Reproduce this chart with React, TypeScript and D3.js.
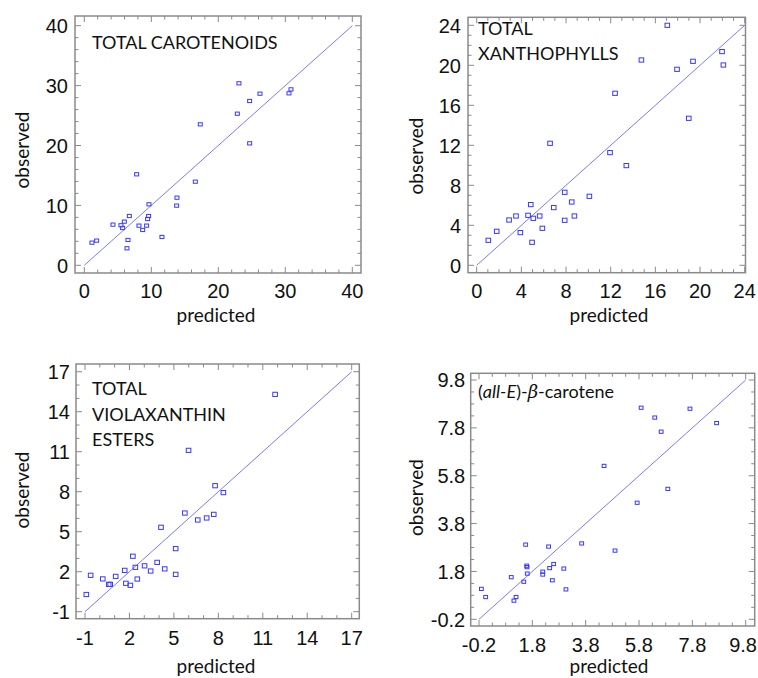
import React from "react";
import * as d3 from "d3";

// ---------- DATA ----------
const carotenoidsPredicted = [1.14, 1.84, 4.28, 5.47, 5.72, 5.97, 6.52, 6.37, 6.72, 7.81, 8.16, 8.71, 9.3, 9.45, 9.6, 9.65, 11.59, 13.78, 13.83, 16.57, 17.31, 22.84, 23.08, 24.68, 24.68, 26.22, 30.55, 30.85];
const carotenoidsObserved = [3.78, 4.12, 6.79, 6.68, 6.23, 7.29, 4.23, 2.84, 8.23, 15.19, 6.62, 5.9, 6.62, 7.73, 8.23, 10.18, 4.73, 9.96, 11.29, 13.96, 23.53, 25.31, 30.38, 27.43, 20.36, 28.65, 28.71, 29.37];

const xanthophyllsPredicted = [1.04, 1.79, 2.9, 3.52, 3.91, 4.6, 4.84, 4.96, 5.07, 5.64, 5.88, 6.57, 6.9, 7.88, 7.88, 8.51, 8.75, 10.09, 11.94, 12.39, 13.4, 14.75, 17.07, 17.94, 18.99, 19.37, 21.97, 22.09];
const xanthophyllsObserved = [2.5, 3.4, 4.53, 4.93, 3.27, 5.0, 6.07, 2.3, 4.7, 4.93, 3.7, 12.2, 5.77, 7.3, 4.5, 6.33, 4.93, 6.9, 11.27, 17.2, 9.97, 20.53, 24.0, 19.6, 14.7, 20.4, 21.37, 20.03];

const violaxanthinPredicted = [-0.91, -0.62, 0.2, 0.6, 0.7, 1.07, 1.68, 1.76, 2.06, 2.23, 2.4, 2.53, 3.02, 3.43, 3.87, 4.13, 4.38, 5.12, 5.12, 5.74, 5.99, 6.61, 7.21, 7.69, 7.78, 8.34, 11.83];
const violaxanthinObserved = [0.29, 1.73, 1.46, 1.05, 1.05, 1.65, 2.1, 1.13, 0.98, 3.16, 2.33, 1.45, 2.44, 2.05, 2.7, 5.33, 2.21, 3.73, 1.8, 6.4, 11.1, 5.88, 6.03, 6.3, 8.45, 7.93, 15.3];

const betaCarotenePredicted = [-0.11, 0.05, 1.01, 1.11, 1.19, 1.48, 1.55, 1.59, 1.6, 1.61, 2.19, 2.19, 2.41, 2.45, 2.55, 2.6, 2.98, 3.06, 3.65, 4.49, 4.9, 5.73, 5.88, 6.39, 6.63, 6.88, 7.71, 8.71];
const betaCaroteneObserved = [1.07, 0.73, 1.56, 0.58, 0.73, 1.37, 2.92, 2.04, 1.98, 1.71, 1.79, 1.67, 2.84, 1.94, 1.43, 2.11, 1.92, 1.05, 2.97, 6.21, 2.67, 4.67, 8.64, 8.23, 7.64, 5.25, 8.6, 8.0];

const ticksCarotenoids = [0, 10, 20, 30, 40];
const ticksXanthophylls = [0, 4, 8, 12, 16, 20, 24];
const ticksViolaxanthin = [-1, 2, 5, 8, 11, 14, 17];
const ticksBetaCarotene = [-0.2, 1.8, 3.8, 5.8, 7.8, 9.8];

const xLabel = "predicted";
const yLabel = "observed";

// ---------- LAYOUT ----------
type Panel = {
  pred: number[];
  obs: number[];
  ticks: number[];
  minor: number;
  fmt: (v: number) => string;
  frame: [number, number, number, number]; // left, top, right, bottom
  xr: [number, number];
  yr: [number, number];
  marker: [number, number];
  title: React.ReactNode;
  yTitleX: number;
  yTitleY: number;
  xTitleX: number;
  xTitleY: number;
  tickLabelDy: number;
  yTickGap: number;
};

const BLUE = "#3838ff";
const LINE = "#7a7aff";
const GREY = "#8a8a8a";
const WIDTH = 758;

const titleFont = "Lato, 'Open Sans', sans-serif";
const tickFont = "'Liberation Sans', Arial, sans-serif";

const panels: Panel[] = [
  {
    pred: carotenoidsPredicted,
    obs: carotenoidsObserved,
    ticks: ticksCarotenoids,
    minor: 2,
    fmt: (v) => String(v),
    frame: [75, 16, 361, 273],
    xr: [84.3, 352.3],
    yr: [265.3, 25.7],
    marker: [4, 3.2],
    title: (
      <text x={92} y={49} fontFamily={titleFont} fontSize={18} fill="#111">
        TOTAL CAROTENOIDS
      </text>
    ),
    yTitleX: 28.5,
    yTitleY: 150,
    xTitleX: 216,
    xTitleY: 322,
    tickLabelDy: 25,
    yTickGap: 7,
  },
  {
    pred: xanthophyllsPredicted,
    obs: xanthophyllsObserved,
    ticks: ticksXanthophylls,
    minor: 1,
    fmt: (v) => String(v),
    frame: [468, 17.3, 745.5, 272.7],
    xr: [476.7, 744.7],
    yr: [265.3, 25.3],
    marker: [4.6, 4.2],
    title: (
      <g fontFamily={titleFont} fontSize={18} fill="#111">
        <text x={478} y={35}>TOTAL</text>
        <text x={478} y={60}>XANTHOPHYLLS</text>
      </g>
    ),
    yTitleX: 423,
    yTitleY: 156,
    xTitleX: 609,
    xTitleY: 322,
    tickLabelDy: 25,
    yTickGap: 7,
  },
  {
    pred: violaxanthinPredicted,
    obs: violaxanthinObserved,
    ticks: ticksViolaxanthin,
    minor: 1,
    fmt: (v) => String(v),
    frame: [76, 364, 359.3, 618.7],
    xr: [85, 351.7],
    yr: [611.7, 371.7],
    marker: [4.6, 4.2],
    title: (
      <g fontFamily={titleFont} fontSize={18} fill="#111">
        <text x={92} y={395}>TOTAL</text>
        <text x={92} y={420.5}>VIOLAXANTHIN</text>
        <text x={92} y={446}>ESTERS</text>
      </g>
    ),
    yTitleX: 28.5,
    yTitleY: 490,
    xTitleX: 216,
    xTitleY: 673,
    tickLabelDy: 26,
    yTickGap: 6,
  },
  {
    pred: betaCarotenePredicted,
    obs: betaCaroteneObserved,
    ticks: ticksBetaCarotene,
    minor: 0.5,
    fmt: (v) => v.toFixed(1),
    frame: [470.7, 373.3, 754.7, 626],
    xr: [479, 745.7],
    yr: [619.3, 380],
    marker: [3.8, 3.2],
    title: (
      <text x={478} y={398} fontFamily={titleFont} fontSize={18} fill="#111">
        (<tspan fontStyle="italic">all-E</tspan>)-<tspan fontStyle="italic" fontFamily="'DejaVu Serif', serif">β</tspan>-carotene
      </text>
    ),
    yTitleX: 423,
    yTitleY: 497.5,
    xTitleX: 609,
    xTitleY: 673,
    tickLabelDy: 26,
    yTickGap: 5.5,
  },
];

function PanelView({ p }: { p: Panel }) {
  const lo = p.ticks[0];
  const hi = p.ticks[p.ticks.length - 1];
  const x = d3.scaleLinear().domain([lo, hi]).range(p.xr);
  const y = d3.scaleLinear().domain([lo, hi]).range(p.yr);
  const [L, T, R, B] = p.frame;
  const n = Math.round((hi - lo) / p.minor);
  const minorTicks = d3.range(n + 1).map((i) => lo + i * p.minor);
  const majorSet = new Set(p.ticks.map((t) => t.toFixed(3)));
  const isMajor = (v: number) => majorSet.has(v.toFixed(3));
  const majLen = 6;
  const minLen = 3.5;
  return (
    <g>
      <g stroke={GREY} strokeWidth={1}>
        {minorTicks.map((v, i) => {
          const len = isMajor(v) ? majLen : minLen;
          const xv = x(v);
          const yv = y(v);
          return (
            <g key={i}>
              <line x1={xv} x2={xv} y1={B} y2={B - len} />
              <line x1={xv} x2={xv} y1={T} y2={T + len} />
              <line x1={L} x2={L + len} y1={yv} y2={yv} />
              <line x1={R} x2={R - len} y1={yv} y2={yv} />
            </g>
          );
        })}
      </g>
      <rect x={L} y={T} width={R - L} height={B - T} fill="none" stroke={GREY} strokeWidth={1.5} />
      <line x1={x(lo)} y1={y(lo)} x2={x(hi)} y2={y(hi)} stroke={LINE} strokeWidth={1} />
      <g fill="none" stroke={BLUE} strokeWidth={1}>
        {p.pred.map((v, i) => (
          <rect
            key={i}
            x={x(v) - p.marker[0] / 2}
            y={y(p.obs[i]) - p.marker[1] / 2}
            width={p.marker[0]}
            height={p.marker[1]}
          />
        ))}
      </g>
      <g fontFamily={tickFont} fontSize={20} fill="#111">
        {p.ticks.map((t, i) => {
          const label = p.fmt(t);
          const half = label.length * 5.6;
          const overflow = x(t) + half > WIDTH - 1;
          return (
            <text
              key={"x" + i}
              x={overflow ? WIDTH - 1 : x(t)}
              y={B + p.tickLabelDy}
              textAnchor={overflow ? "end" : "middle"}
            >
              {label}
            </text>
          );
        })}
        {p.ticks.map((t, i) => (
          <text key={"y" + i} x={L - p.yTickGap} y={y(t)} dy="0.36em" textAnchor="end">
            {p.fmt(t)}
          </text>
        ))}
      </g>
      {p.title}
      <text
        transform={`translate(${p.yTitleX},${p.yTitleY}) rotate(-90)`}
        textAnchor="middle"
        fontFamily={titleFont}
        fontSize={19}
        fill="#111"
      >
        {yLabel}
      </text>
      <text x={p.xTitleX} y={p.xTitleY} textAnchor="middle" fontFamily={titleFont} fontSize={19} fill="#111">
        {xLabel}
      </text>
    </g>
  );
}

export default function App() {
  return (
    <svg
      width={758}
      height={678}
      viewBox="0 0 758 678"
      style={{ position: "absolute", left: 0, top: 0, background: "#fff" }}
    >
      <rect x={0} y={0} width={758} height={678} fill="#fff" />
      {panels.map((p, i) => (
        <PanelView key={i} p={p} />
      ))}
    </svg>
  );
}
